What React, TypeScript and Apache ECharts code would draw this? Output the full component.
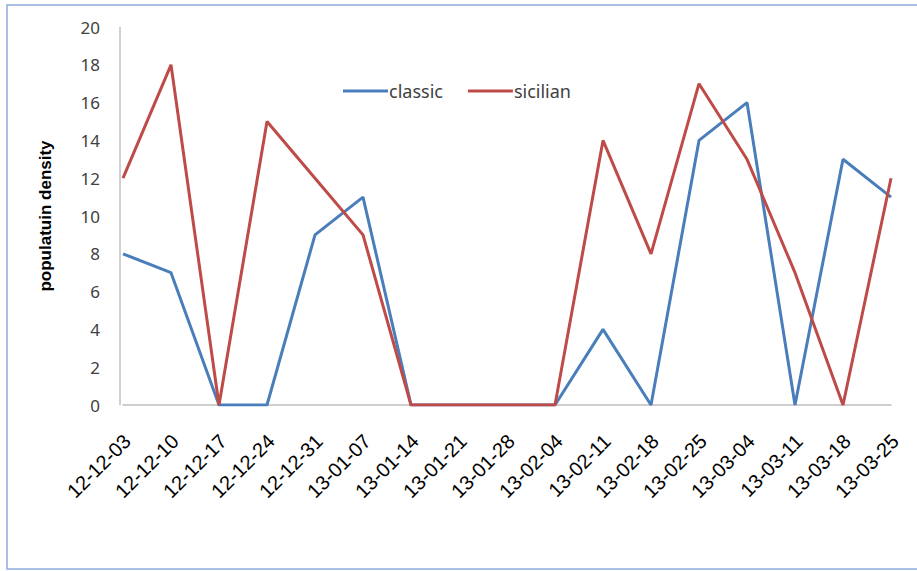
import React, { useEffect, useRef } from "react";
import * as echarts from "echarts";

const categories = [
  "12-12-03", "12-12-10", "12-12-17", "12-12-24", "12-12-31", "13-01-07",
  "13-01-14", "13-01-21", "13-01-28", "13-02-04", "13-02-11", "13-02-18",
  "13-02-25", "13-03-04", "13-03-11", "13-03-18", "13-03-25",
];
const classicValues = [8, 7, 0, 0, 9, 11, 0, 0, 0, 0, 4, 0, 14, 16, 0, 13, 11];
const sicilianValues = [12, 18, 0, 15, 12, 9, 0, 0, 0, 0, 14, 8, 17, 13, 7, 0, 12];
const seriesNames = ["classic", "sicilian"];
const yAxisTitle = "populatuin density";

export default function App() {
  const ref = useRef<HTMLDivElement>(null);
  useEffect(() => {
    if (!ref.current) return;
    const chart = echarts.init(ref.current, undefined, { renderer: "svg" });
    chart.setOption({
      animation: false,
      backgroundColor: "#ffffff",
      graphic: [
        {
          type: "rect",
          shape: { x: 7, y: 5, width: 940, height: 564 },
          style: { fill: "none", stroke: "#8eaadb", lineWidth: 1.5 },
          silent: true,
        },
        {
          type: "line",
          shape: { x1: 120, y1: 27, x2: 120, y2: 405 },
          style: { stroke: "#bfbfbf", lineWidth: 1.5 },
          silent: true,
        },
      ],
      legend: {
        data: seriesNames,
        left: 338,
        top: 77,
        itemWidth: 45,
        itemHeight: 3,
        itemGap: 25,
        icon: "rect",
        textStyle: { fontFamily: "Noto Sans", fontSize: 18, color: "#404040", padding: [0, 0, 0, -4] },
      },
      grid: { left: 123, right: 26, top: 27, bottom: 166, containLabel: false },
      xAxis: {
        type: "category",
        data: categories,
        boundaryGap: false,
        axisLine: { lineStyle: { color: "#bfbfbf", width: 1.5 } },
        axisTick: { show: false },
        axisLabel: {
          rotate: 45,
          interval: 0,
          margin: 37,
          padding: [0, -6, 0, 0],
          fontFamily: "Liberation Sans",
          fontSize: 20,
          color: "#000000",
        },
      },
      yAxis: {
        type: "value",
        min: 0,
        max: 20,
        interval: 2,
        name: yAxisTitle,
        nameLocation: "middle",
        nameGap: 69,
        nameTextStyle: { fontFamily: "Liberation Sans", fontSize: 17, fontWeight: "bold", color: "#000000" },
        splitLine: { show: false },
        axisLine: { show: false },
        axisTick: { show: false },
        axisLabel: { margin: 23, fontFamily: "Noto Sans", fontSize: 17, color: "#404040" },
      },
      series: [
        {
          name: seriesNames[0],
          type: "line",
          data: classicValues,
          symbol: "none",
          lineStyle: { color: "#4a7ebb", width: 3 },
          itemStyle: { color: "#4a7ebb" },
        },
        {
          name: seriesNames[1],
          type: "line",
          data: sicilianValues,
          symbol: "none",
          lineStyle: { color: "#be4b48", width: 3 },
          itemStyle: { color: "#be4b48" },
        },
      ],
    });
    return () => chart.dispose();
  }, []);
  return (
    <div
      ref={ref}
      style={{ position: "fixed", left: 0, top: 0, width: 917, height: 571 }}
    />
  );
}
